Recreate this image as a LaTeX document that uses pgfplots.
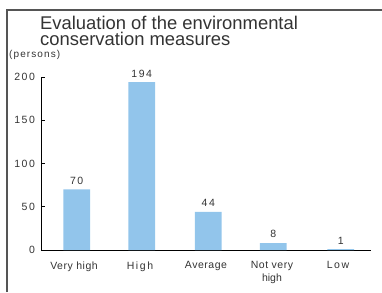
\documentclass[border=0pt]{standalone}
\usepackage{pgfplots}
\pgfplotsset{compat=1.18}
\usepackage{fontspec}
\setmainfont{Liberation Sans}
\newfontfamily\spacedA[LetterSpace=15]{Liberation Sans}
\newfontfamily\spacedC[LetterSpace=11]{Liberation Sans}
\newfontfamily\spacedB[LetterSpace=5]{Liberation Sans}
\definecolor{barblue}{HTML}{92C5EB}
\definecolor{txt}{HTML}{333333}
\definecolor{frame}{HTML}{555555}
\begin{document}
\begin{tikzpicture}[x=1pt,y=1pt]
\useasboundingbox (0,0) rectangle (382,292);
\draw[color=frame, line width=1.8pt] (7,0) -- (7,282) -- (382,282);
\node[anchor=north west, inner sep=0, align=left, text=txt, font=\fontsize{18.4}{15.7}\selectfont] at (40,276) {Evaluation of the environmental\\conservation measures};
\node[anchor=west, inner sep=0, text=txt, font=\spacedC\fontsize{10}{12}\selectfont] at (9,237) {(persons)};
\begin{axis}[
  at={(41pt,42pt)}, anchor=south west,
  scale only axis, width=330pt, height=173pt,
  xmin=0, xmax=5, ymin=0, ymax=200,
  axis x line=bottom, axis y line=left,
  axis line style={-, color=black, line width=0.6pt},
  tick align=inside, major tick length=4pt,
  every tick/.style={black, line width=0.6pt},
  ytick={0,50,100,150,200},
  /pgf/number format/assume math mode=true,
  yticklabel style={font=\spacedA\fontsize{10.5}{12}\selectfont, text=txt, xshift=-2.5pt},
  xtick={0.5,1.5,2.5,3.5,4.5},
  xticklabels={{\spacedB Very high},{\spacedA High},{\spacedB Average},{\spacedB Not very\\high},{\spacedA Low}},
  xticklabel style={font=\fontsize{10.5}{12.7}\selectfont, text=txt, align=center, yshift=-8pt},
  xtick style={draw=none},
  minor xtick={1,2,3,4,5},
  minor tick length=12pt,
  minor tick style={black, line width=0.6pt},
  clip=false,
]
\addplot[ybar, bar width=26.7pt, fill=barblue, draw=none,
  nodes near coords,
  every node near coord/.append style={font=\spacedA\fontsize{10.5}{12}\selectfont, text=txt, yshift=1.5pt},
] coordinates {(0.541,70) (1.526,194) (2.535,44) (3.52,8) (4.541,1)};
\end{axis}
\end{tikzpicture}
\end{document}
